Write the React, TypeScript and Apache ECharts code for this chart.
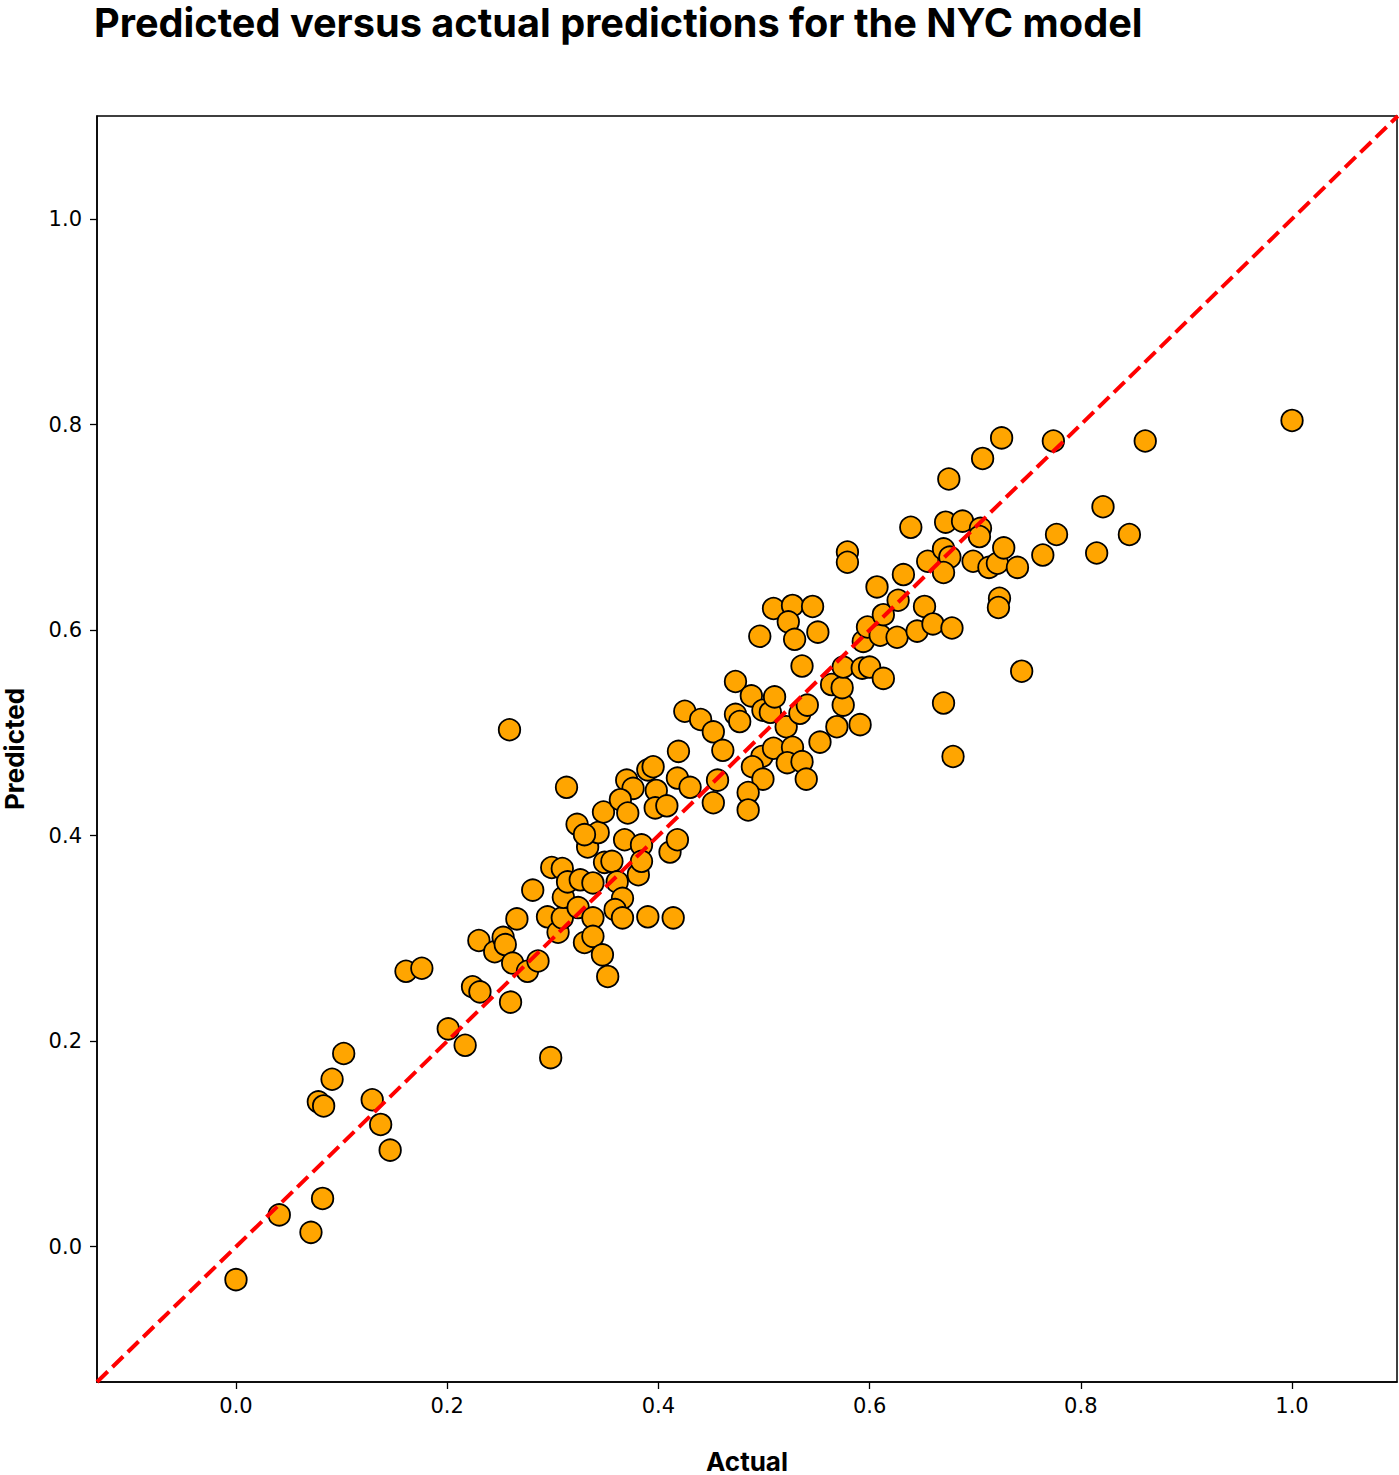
import React, { useEffect, useRef } from "react";
import * as echarts from "echarts";

const TITLE = "Predicted versus actual predictions for the NYC model";
const X_LABEL = "Actual";
const Y_LABEL = "Predicted";
const TICKS = [0, 0.2, 0.4, 0.6, 0.8, 1.0];
const AXIS_MIN = -0.1316;
const AXIS_MAX_X = 1.0994;
const AXIS_MAX_Y = 1.1002;

const actual = [
  0.0, 0.041, 0.071, 0.082, 0.078, 0.083, 0.091, 0.102, 0.129, 0.137, 0.146, 0.161, 0.176, 0.201, 0.217, 0.224,
  0.231, 0.23, 0.245, 0.253, 0.255, 0.26, 0.262, 0.266, 0.276, 0.286, 0.281, 0.259, 0.298, 0.295, 0.299, 0.309,
  0.305, 0.309, 0.31, 0.313, 0.314, 0.323, 0.324, 0.326, 0.333, 0.338, 0.338, 0.33, 0.338, 0.347, 0.352, 0.343,
  0.348, 0.33, 0.349, 0.356, 0.361, 0.366, 0.359, 0.366, 0.368, 0.384, 0.381, 0.384, 0.39, 0.414, 0.411, 0.418,
  0.37, 0.376, 0.364, 0.371, 0.39, 0.395, 0.398, 0.397, 0.408, 0.418, 0.419, 0.43, 0.425, 0.44, 0.452, 0.461,
  0.456, 0.452, 0.473, 0.488, 0.473, 0.477, 0.499, 0.506, 0.51, 0.521, 0.534, 0.541, 0.496, 0.509, 0.527, 0.546,
  0.523, 0.529, 0.551, 0.536, 0.498, 0.489, 0.499, 0.485, 0.485, 0.509, 0.527, 0.522, 0.536, 0.54, 0.553, 0.569,
  0.575, 0.564, 0.574, 0.575, 0.591, 0.593, 0.6, 0.613, 0.594, 0.598, 0.61, 0.626, 0.613, 0.627, 0.607, 0.632,
  0.579, 0.579, 0.639, 0.652, 0.645, 0.66, 0.678, 0.655, 0.67, 0.676, 0.67, 0.672, 0.688, 0.705, 0.704, 0.698,
  0.713, 0.721, 0.727, 0.74, 0.723, 0.722, 0.744, 0.67, 0.679, 0.764, 0.777, 0.725, 0.707, 0.675, 0.774, 0.861,
  0.821, 0.846, 0.815, 1.0,
];

const predicted = [
  -0.032, 0.031, 0.014, 0.047, 0.141, 0.137, 0.163, 0.188, 0.143, 0.119, 0.094, 0.268, 0.271, 0.212, 0.196, 0.253,
  0.248, 0.298, 0.287, 0.301, 0.294, 0.238, 0.276, 0.319, 0.268, 0.278, 0.347, 0.503, 0.184, 0.321, 0.369, 0.368,
  0.306, 0.32, 0.34, 0.447, 0.355, 0.411, 0.33, 0.357, 0.389, 0.354, 0.32, 0.296, 0.302, 0.284, 0.263, 0.403,
  0.423, 0.401, 0.374, 0.375, 0.355, 0.339, 0.328, 0.32, 0.396, 0.391, 0.362, 0.375, 0.321, 0.32, 0.384, 0.396,
  0.454, 0.446, 0.435, 0.422, 0.464, 0.467, 0.444, 0.427, 0.429, 0.456, 0.482, 0.447, 0.521, 0.513, 0.501, 0.483,
  0.454, 0.432, 0.55, 0.536, 0.518, 0.511, 0.522, 0.52, 0.535, 0.506, 0.519, 0.527, 0.594, 0.621, 0.624, 0.623,
  0.608, 0.591, 0.598, 0.565, 0.477, 0.467, 0.455, 0.442, 0.425, 0.485, 0.486, 0.471, 0.472, 0.455, 0.491, 0.506,
  0.527, 0.547, 0.544, 0.564, 0.508, 0.563, 0.564, 0.553, 0.589, 0.603, 0.595, 0.593, 0.615, 0.629, 0.642, 0.654,
  0.676, 0.666, 0.7, 0.623, 0.599, 0.606, 0.602, 0.667, 0.679, 0.671, 0.656, 0.705, 0.706, 0.699, 0.691, 0.667,
  0.661, 0.665, 0.68, 0.661, 0.631, 0.622, 0.56, 0.529, 0.477, 0.673, 0.693, 0.787, 0.767, 0.747, 0.784, 0.784,
  0.72, 0.693, 0.675, 0.804,
];

export default function App() {
  const ref = useRef<HTMLDivElement>(null);
  useEffect(() => {
    if (!ref.current) return;
    const chart = echarts.init(ref.current, null, { renderer: "svg" });
    const points = actual.map((a, i) => [a, predicted[i]]);
    const tickLabelStyle = {
      color: "#000",
      fontFamily: "DejaVu Sans",
      fontSize: 21,
      formatter: (v: number) => v.toFixed(1),
      customValues: TICKS,
    };
    const nameStyle = { fontFamily: "Inter", fontWeight: "bold", fontSize: 26, color: "#000" };
    chart.setOption({
      animation: false,
      backgroundColor: "#fff",
      title: {
        text: TITLE,
        left: 94,
        top: 3,
        padding: 0,
        textStyle: {
          fontFamily: "Inter",
          fontWeight: "bold",
          fontSize: 39.7,
          color: "#000",
        },
      },
      grid: {
        left: 97,
        top: 116,
        width: 1300,
        height: 1266,
        show: true,
        borderColor: "#000",
        borderWidth: 1.5,
        backgroundColor: "transparent",
        containLabel: false,
        outerBoundsMode: "none",
      },
      xAxis: {
        type: "value",
        min: AXIS_MIN,
        max: AXIS_MAX_X,
        name: X_LABEL,
        nameLocation: "middle",
        nameGap: 66,
        nameTextStyle: nameStyle,
        axisLine: { show: true, onZero: false, lineStyle: { color: "#000", width: 1.5 } },
        axisTick: { show: true, inside: false, length: 7, lineStyle: { color: "#000", width: 1.3 }, customValues: TICKS },
        axisLabel: { ...tickLabelStyle, margin: 13 },
        splitLine: { show: false },
      },
      yAxis: {
        type: "value",
        min: AXIS_MIN,
        max: AXIS_MAX_Y,
        name: Y_LABEL,
        nameLocation: "middle",
        nameRotate: 90,
        nameGap: 70,
        nameTextStyle: nameStyle,
        axisLine: { show: true, onZero: false, lineStyle: { color: "#000", width: 1.5 } },
        axisTick: { show: true, inside: false, length: 7, lineStyle: { color: "#000", width: 1.3 }, customValues: TICKS },
        axisLabel: { ...tickLabelStyle, margin: 15 },
        splitLine: { show: false },
      },
      series: [
        {
          type: "scatter",
          data: points,
          symbol: "circle",
          symbolSize: 21.5,
          itemStyle: { color: "#FFA500", borderColor: "#000", borderWidth: 1.8, opacity: 1 },
          z: 2,
        },
        {
          type: "line",
          data: [
            [AXIS_MIN, AXIS_MIN],
            [AXIS_MAX_Y, AXIS_MAX_Y],
          ],
          symbol: "none",
          lineStyle: { color: "#FF0000", width: 4, type: [15, 6.5] },
          z: 3,
        },
      ],
    });
    return () => chart.dispose();
  }, []);
  return (
    <div
      ref={ref}
      style={{ position: "absolute", left: 0, top: 0, width: 1399, height: 1475 }}
    />
  );
}
